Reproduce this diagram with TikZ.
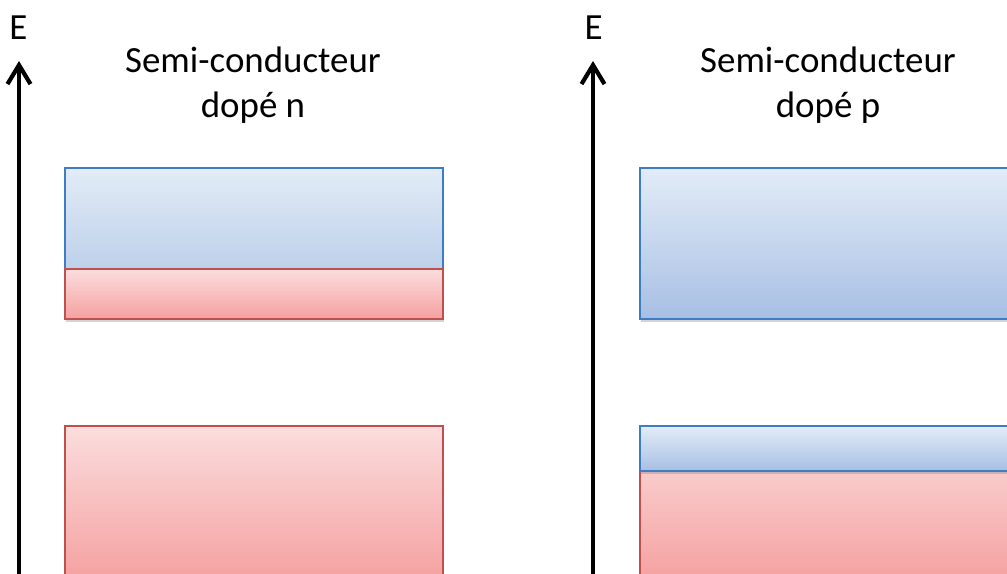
\documentclass[tikz,border=0pt]{standalone}
\usepackage{fontspec}
\setmainfont{Carlito}
\usetikzlibrary{arrows.meta,shadows}

\definecolor{bandblue}{HTML}{3D7DC5}
\definecolor{bandred}{HTML}{C0504D}
\definecolor{bluetop}{HTML}{E3ECF7}
\definecolor{bluelow}{HTML}{BDD0EA}
\definecolor{bluedeep}{HTML}{A7BFE4}
\definecolor{redtop}{HTML}{FBDDDD}
\definecolor{redlow}{HTML}{F5A0A0}

\begin{document}
\begin{tikzpicture}[x=0.02cm, y=-0.02cm,
    title/.style={anchor=base, font=\fontsize{21}{25}\selectfont},
    axis/.style={line width=2.4pt, -{Straight Barb[length=3.8mm, width=4.6mm, line width=2.4pt]}},
    band/.style={rectangle, anchor=north west, line width=1.3pt, inner sep=0pt, minimum width=7.56cm,
        drop shadow={shadow xshift=0.6pt, shadow yshift=-1.4pt, opacity=0.35}},
    cband/.style={band, draw=bandblue, top color=bluetop, bottom color=#1},
    vband/.style={band, draw=bandred, top color=redtop, bottom color=redlow}
]
\useasboundingbox (0,0) rectangle (1007,574);
\clip (0,0) rectangle (1007,574);

% Semi-conducteur dope n
\coordinate (nbot) at (19,600);
\coordinate (ntop) at (19,61);
\draw[axis] (nbot) -- (ntop);
\node[title] (ne) at (18.5,40) {E};
\node[title] (ntit1) at (253,73) {Semi-conducteur};
\node[title] (ntit2) at (253,118) {dopé n};

\node[cband=bluelow, minimum height=2.02cm] (ncb) at (64,167) {};
\node[vband, minimum height=1cm] (ndon) at (64,268) {};
\node[vband, minimum height=3.1cm] (nvb) at (64,425) {};

% Semi-conducteur dope p
\coordinate (pbot) at (593,600);
\coordinate (ptop) at (593,61);
\draw[axis] (pbot) -- (ptop);
\node[title] (pe) at (593.5,40) {E};
\node[title] (ptit1) at (828,73) {Semi-conducteur};
\node[title] (ptit2) at (828,118) {dopé p};

\node[cband=bluedeep, minimum height=3.02cm] (pcb) at (639,167) {};
\node[vband, minimum height=3.1cm] (pvb) at (639,425) {};
\node[cband=bluedeep, minimum height=0.9cm] (pacc) at (639,425) {};

\end{tikzpicture}
\end{document}
